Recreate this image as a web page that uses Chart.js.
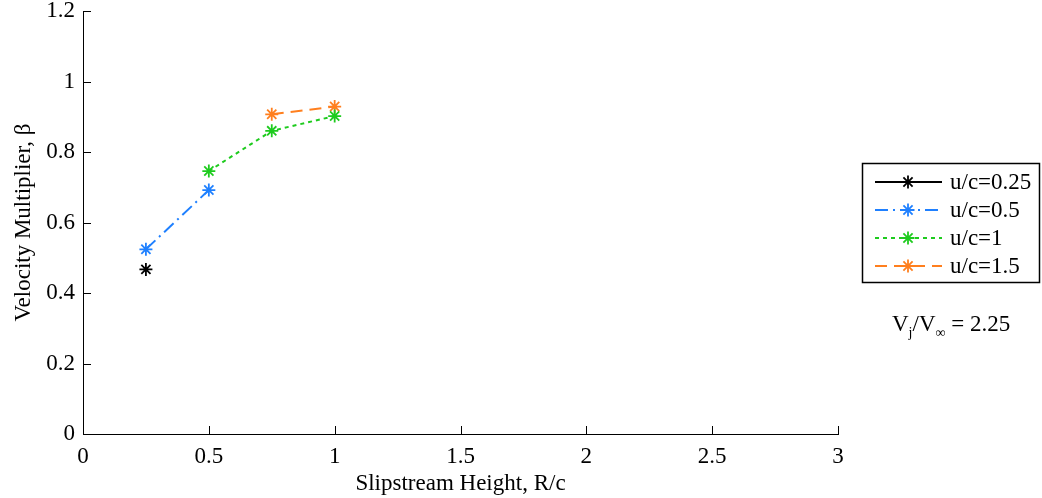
<!DOCTYPE html>
<html>
<head>
<meta charset="utf-8">
<script src="https://cdn.jsdelivr.net/npm/chart.js@4"></script>
<style>
  html, body { margin: 0; padding: 0; background: #fff; }
  #wrap { width: 1042px; height: 498px; }
</style>
</head>
<body>
<div id="wrap"><canvas id="c" width="1042" height="498"></canvas></div>
<script>
// Slipstream height R/c against velocity multiplier beta, one series per u/c
const seriesNames = ['u/c=0.25', 'u/c=0.5', 'u/c=1', 'u/c=1.5'];
const heightUc025 = [0.25];
const betaUc025   = [0.467];
const heightUc05  = [0.25, 0.5];
const betaUc05    = [0.524, 0.692];
const heightUc1   = [0.5, 0.75, 1.0];
const betaUc1     = [0.746, 0.860, 0.902];
const heightUc15  = [0.75, 1.0];
const betaUc15    = [0.907, 0.929];

const xTickLabels = ['0', '0.5', '1', '1.5', '2', '2.5', '3'];
const yTickLabels = ['0', '0.2', '0.4', '0.6', '0.8', '1', '1.2'];
const ratioLabel = { main: 'V', sub1: 'j', mid: '/V', sub2: '\u221E', tail: ' = 2.25' };

const FONT = '"Liberation Serif", "Times New Roman", serif';
const FS = 23;

function pts(xs, ys) { return xs.map((x, i) => ({ x: x, y: ys[i] })); }

const styles = [
  { color: '#000000', dash: [] },
  { color: '#1f80ff', dash: [13, 5, 2, 5] },
  { color: '#1ecb1e', dash: [4, 4] },
  { color: '#ff7f1e', dash: [12, 7] }
];
const seriesData = [
  pts(heightUc025, betaUc025),
  pts(heightUc05, betaUc05),
  pts(heightUc1, betaUc1),
  pts(heightUc15, betaUc15)
];

const datasets = seriesNames.map((name, i) => ({
  label: name,
  data: seriesData[i],
  showLine: true,
  borderColor: styles[i].color,
  backgroundColor: styles[i].color,
  borderWidth: 2,
  borderDash: styles[i].dash,
  pointStyle: 'star',
  pointRadius: 6.5,
  pointBorderWidth: 1.8,
  pointHoverRadius: 6.5,
  pointBorderColor: styles[i].color,
  pointBackgroundColor: styles[i].color,
  tension: 0
}));

// inward tick marks, legend box and the jet-speed note
const extras = {
  id: 'extras',
  afterDraw(chart) {
    const ctx = chart.ctx;
    const xs = chart.scales.x, ys = chart.scales.y;
    ctx.save();
    ctx.strokeStyle = '#000';
    ctx.lineWidth = 1;
    ctx.setLineDash([]);
    ctx.beginPath();
    xs.ticks.forEach(t => {
      const px = Math.round(xs.getPixelForValue(t.value)) + 0.5;
      ctx.moveTo(px, ys.bottom);
      ctx.lineTo(px, ys.bottom - 8);
    });
    ys.ticks.forEach(t => {
      const py = Math.round(ys.getPixelForValue(t.value)) + 0.5;
      ctx.moveTo(xs.left, py);
      ctx.lineTo(xs.left + 8, py);
    });
    ctx.stroke();

    // legend
    const bx = 862.5, by = 163.5, bw = 177, bh = 119;
    ctx.fillStyle = '#fff';
    ctx.fillRect(bx, by, bw, bh);
    ctx.strokeStyle = '#000';
    ctx.lineWidth = 1.5;
    ctx.strokeRect(bx, by, bw, bh);
    ctx.font = FS + 'px ' + FONT;
    ctx.textBaseline = 'middle';
    ctx.textAlign = 'left';
    chart.data.datasets.forEach((ds, i) => {
      const y = 182 + i * 28;
      ctx.strokeStyle = ds.borderColor;
      ctx.lineWidth = 2;
      ctx.setLineDash(ds.borderDash);
      ctx.beginPath();
      ctx.moveTo(875, y);
      ctx.lineTo(942, y);
      ctx.stroke();
      ctx.setLineDash([]);
      ctx.lineWidth = 1.8;
      const r = 6.5;
      ctx.beginPath();
      for (let k = 0; k < 4; k++) {
        const a = k * Math.PI / 4;
        ctx.moveTo(908 - r * Math.cos(a), y - r * Math.sin(a));
        ctx.lineTo(908 + r * Math.cos(a), y + r * Math.sin(a));
      }
      ctx.stroke();
      ctx.fillStyle = '#000';
      ctx.fillText(ds.label, 950, y + 1);
    });

    // V_j / V_inf note
    ctx.fillStyle = '#000';
    ctx.textBaseline = 'alphabetic';
    let x = 892;
    const base = 331;
    const small = Math.round(FS * 0.62);
    ctx.font = FS + 'px ' + FONT;
    ctx.fillText(ratioLabel.main, x, base); x += ctx.measureText(ratioLabel.main).width;
    ctx.font = small + 'px ' + FONT;
    ctx.fillText(ratioLabel.sub1, x, base + 6); x += ctx.measureText(ratioLabel.sub1).width;
    ctx.font = FS + 'px ' + FONT;
    ctx.fillText(ratioLabel.mid, x, base); x += ctx.measureText(ratioLabel.mid).width;
    ctx.font = small + 'px ' + FONT;
    ctx.fillText(ratioLabel.sub2, x, base + 6); x += ctx.measureText(ratioLabel.sub2).width;
    ctx.font = FS + 'px ' + FONT;
    ctx.fillText(ratioLabel.tail, x, base);
    ctx.restore();
  }
};

new Chart(document.getElementById('c'), {
  type: 'scatter',
  data: { datasets: datasets },
  options: {
    responsive: false,
    animation: false,
    events: [],
    layout: { padding: { top: 0, right: 204, left: 0, bottom: 0 } },
    plugins: { legend: { display: false }, tooltip: { enabled: false } },
    scales: {
      x: {
        type: 'linear', min: 0, max: 3,
        afterFit(s) { s.height = 64; },
        grid: { display: false, drawTicks: false },
        border: { display: true, color: '#000', width: 1 },
        ticks: {
          stepSize: 0.5, padding: 9, color: '#000', maxRotation: 0, autoSkip: false,
          font: { family: FONT, size: FS },
          callback: (v, i) => xTickLabels[i]
        },
        title: {
          display: true, text: 'Slipstream Height, R/c', color: '#000',
          font: { family: FONT, size: FS, lineHeight: 1.2 },
          padding: { top: 0, bottom: 0 }
        }
      },
      y: {
        type: 'linear', min: 0, max: 1.2,
        afterFit(s) { s.width = 83; s.paddingTop = 11; },
        grid: { display: false, drawTicks: false },
        border: { display: true, color: '#000', width: 1 },
        ticks: {
          stepSize: 0.2, padding: 8, color: '#000', autoSkip: false,
          font: { family: FONT, size: FS },
          callback: (v, i) => yTickLabels[i]
        },
        title: {
          display: true, text: 'Velocity Multiplier, \u03B2', color: '#000',
          font: { family: FONT, size: FS, lineHeight: 1.2 },
          padding: { top: 10, bottom: 0 }
        }
      }
    }
  },
  plugins: [extras]
});
</script>
</body>
</html>
